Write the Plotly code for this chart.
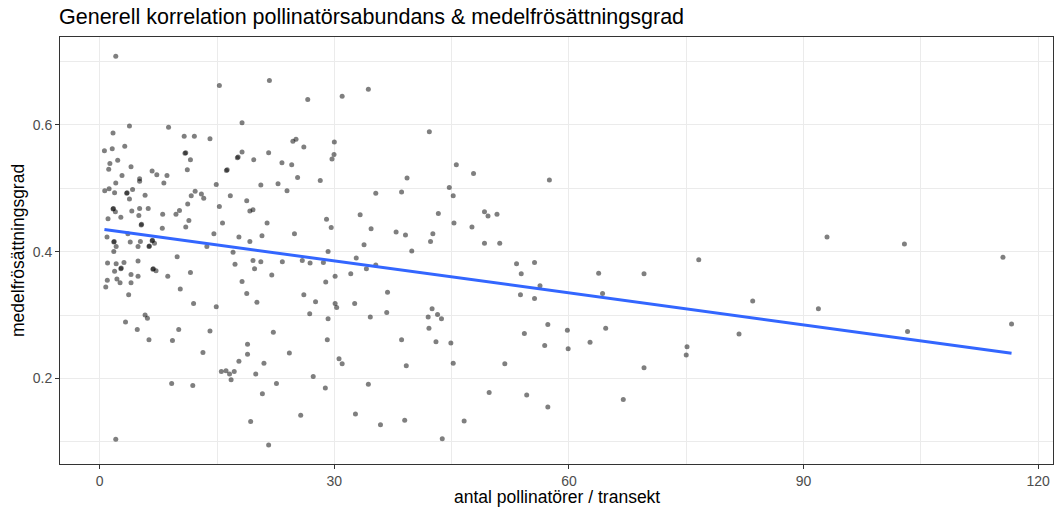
import numpy as np
import plotly.graph_objects as go

# antal pollinatörer / transekt (x) and medelfrösättningsgrad (y)
pollinators = [
    2.05, 15.3, 3.8, 1.7, 8.8, 10.8, 12.1, 14.1, 0.6, 1.6, 3.2, 1.3, 1.15, 2.3, 10.9, 11.0,
    11.6, 17.6, 17.7, 4.0, 11.2, 16.2, 16.3, 6.7, 7.3, 8.6, 2.85, 5.1, 5.1, 8.2, 2.05, 14.9,
    0.64, 1.2, 1.9, 3.45, 3.5, 4.2, 3.8, 5.8, 12.2, 11.7, 13.0, 13.3, 16.7, 15.3, 11.25, 1.7,
    1.75, 2.0, 4.1, 5.1, 6.2, 1.06, 2.7, 5.0, 8.05, 9.75, 10.2, 5.3, 5.35, 11.4, 11.0, 8.0,
    15.7, 14.6, 17.8, 0.93, 3.6, 1.8, 1.85, 2.1, 3.9, 5.2, 4.9, 6.3, 6.35, 6.7, 6.75, 7.0, 13.7,
    17.05, 1.8, 9.9, 17.3, 1.0, 2.1, 3.1, 4.9, 2.7, 2.75, 1.9, 6.8, 6.85, 7.2, 4.0, 4.9, 8.7,
    11.6, 2.2, 0.97, 2.6, 4.0, 0.77, 10.3, 3.7, 12.0, 14.9, 3.3, 5.8, 6.1, 4.8, 10.1, 14.1,
    6.3, 9.3, 13.2, 17.8, 15.55, 16.15, 16.6, 17.2, 16.8, 9.2, 11.9, 2.05,
    21.7, 26.6, 31.0, 34.35, 18.2, 18.2, 19.7, 21.6, 23.3, 24.55, 24.7, 25.1, 26.1, 30.0,
    29.96, 29.7, 25.3, 28.2, 22.8, 20.6, 23.95, 39.3, 35.3, 38.6, 18.8, 19.2, 19.6, 21.4,
    33.3, 29.0, 29.6, 34.7, 37.9, 39.1, 24.9, 20.75, 19.2, 33.8,
    29.2, 19.6, 19.8, 20.6, 23.35, 25.9, 26.9, 28.6, 32.8, 34.1, 35.3, 32.1, 30.1, 28.9,
    22.0, 18.2, 18.8, 20.1, 26.1, 27.6, 26.85, 30.1, 30.3, 32.6, 36.8, 36.7, 34.6, 29.2,
    22.2, 29.1, 38.6, 18.9, 18.9, 24.25, 21.0, 19.95, 30.6, 31.0, 39.2, 22.6, 27.3, 28.85,
    34.35, 20.8, 19.3, 25.7, 32.7, 35.9, 39.0, 21.6,
    42.15, 45.6, 47.8, 57.5, 44.7, 45.2, 43.3, 49.2, 49.65, 50.8, 45.3, 47.6, 42.6, 42.3,
    39.9, 49.2, 51.15, 53.3, 55.6, 53.9, 56.3, 53.8, 55.6, 63.8, 42.5, 42.0, 43.2, 43.7,
    42.1, 43.0, 44.9, 57.3, 54.3, 56.9, 59.8, 59.9, 62.7, 45.2, 51.8, 49.8, 54.6, 57.3,
    46.6, 43.8,
    64.3, 64.7, 66.95, 69.6, 69.6, 76.6, 75.1, 75.0, 83.5, 81.75, 93.0, 91.9, 102.9, 103.3,
    115.5, 116.6,
]
seed_set = [
    0.708, 0.662, 0.598, 0.587, 0.596, 0.582, 0.582, 0.578, 0.559, 0.562, 0.566, 0.539, 0.530, 0.544, 0.555, 0.556,
    0.545, 0.548, 0.549, 0.534, 0.529, 0.528, 0.529, 0.527, 0.521, 0.520, 0.520, 0.515, 0.511, 0.508, 0.508, 0.506,
    0.496, 0.499, 0.493, 0.492, 0.493, 0.498, 0.483, 0.489, 0.495, 0.488, 0.491, 0.484, 0.488, 0.471, 0.475, 0.467,
    0.468, 0.463, 0.464, 0.468, 0.468, 0.452, 0.454, 0.457, 0.459, 0.459, 0.465, 0.442, 0.443, 0.449, 0.439, 0.437,
    0.445, 0.428, 0.423, 0.423, 0.428, 0.415, 0.416, 0.408, 0.415, 0.416, 0.408, 0.408, 0.409, 0.417, 0.418, 0.413, 0.408,
    0.399, 0.400, 0.392, 0.380, 0.382, 0.381, 0.383, 0.385, 0.373, 0.374, 0.369, 0.372, 0.373, 0.370, 0.364, 0.361, 0.361,
    0.367, 0.357, 0.355, 0.351, 0.351, 0.344, 0.341, 0.332, 0.318, 0.313, 0.289, 0.300, 0.295, 0.277, 0.277, 0.275,
    0.261, 0.260, 0.241, 0.227, 0.211, 0.212, 0.207, 0.211, 0.198, 0.192, 0.189, 0.104,
    0.670, 0.640, 0.645, 0.656, 0.603, 0.557, 0.545, 0.556, 0.540, 0.537, 0.574, 0.577, 0.565, 0.573,
    0.553, 0.546, 0.517, 0.512, 0.507, 0.505, 0.496, 0.516, 0.492, 0.494, 0.480, 0.464, 0.466, 0.445,
    0.458, 0.451, 0.438, 0.436, 0.431, 0.426, 0.428, 0.425, 0.416, 0.411,
    0.400, 0.386, 0.373, 0.384, 0.384, 0.386, 0.382, 0.383, 0.390, 0.373, 0.379, 0.365, 0.361, 0.352,
    0.363, 0.353, 0.334, 0.320, 0.332, 0.321, 0.302, 0.318, 0.312, 0.318, 0.336, 0.304, 0.297, 0.294,
    0.273, 0.261, 0.261, 0.254, 0.238, 0.240, 0.224, 0.207, 0.231, 0.223, 0.220, 0.192, 0.203, 0.185,
    0.191, 0.176, 0.132, 0.142, 0.144, 0.127, 0.134, 0.095,
    0.589, 0.537, 0.523, 0.513, 0.501, 0.488, 0.460, 0.463, 0.456, 0.459, 0.445, 0.439, 0.428, 0.416,
    0.401, 0.413, 0.413, 0.381, 0.383, 0.365, 0.346, 0.332, 0.326, 0.366, 0.310, 0.297, 0.301, 0.294,
    0.279, 0.258, 0.256, 0.285, 0.271, 0.252, 0.276, 0.247, 0.257, 0.224, 0.223, 0.178, 0.174, 0.155,
    0.133, 0.105,
    0.334, 0.279, 0.167, 0.365, 0.217, 0.387, 0.250, 0.237, 0.322, 0.270, 0.423, 0.310, 0.412, 0.274,
    0.391, 0.286,
]

title_text = "Generell korrelation pollinatörsabundans & medelfrösättningsgrad"
x_label = "antal pollinatörer / transekt"
y_label = "medelfrösättningsgrad"
x_ticks = [0, 30, 60, 90, 120]
y_ticks = [0.2, 0.4, 0.6]

x = np.array(pollinators)
y = np.array(seed_set)
slope, intercept = np.polyfit(x, y, 1)
fit_x = np.array([x.min(), x.max()])
fit_y = intercept + slope * fit_x

FONT = "Liberation Sans, Arial, Helvetica, sans-serif"
W, H = 1056, 510
L, R, T, B = 60, 3, 37, 46

fig = go.Figure()
fig.add_trace(go.Scatter(
    x=x, y=y, mode="markers",
    marker=dict(size=5, color="rgba(0,0,0,0.5)", line=dict(width=0)),
    hoverinfo="x+y", showlegend=False,
))
fig.add_trace(go.Scatter(
    x=fit_x, y=fit_y, mode="lines",
    line=dict(color="#3366FF", width=3), showlegend=False,
))

axis_common = dict(
    showline=True, linecolor="#333333", linewidth=1, mirror=True,
    ticks="outside", ticklen=4, tickwidth=1, tickcolor="#333333",
    showgrid=True, gridcolor="#EBEBEB", gridwidth=1.4,
    zeroline=False,
    tickfont=dict(family=FONT, size=14, color="#4D4D4D"),
)

fig.update_layout(
    width=W, height=H,
    margin=dict(l=L, r=R, t=T, b=B),
    paper_bgcolor="white", plot_bgcolor="white",
    font=dict(family=FONT, color="black"),
    title=dict(
        text=title_text, x=(L - 1) / W, xanchor="left", xref="container",
        y=1 - 16 / H, yanchor="middle", yref="container",
        font=dict(family=FONT, size=21.5, color="black"),
    ),
    xaxis=dict(
        range=[-5.08, 121.9], tickvals=x_ticks, ticktext=[str(v) for v in x_ticks],
        minor=dict(showgrid=True, gridcolor="#EBEBEB", gridwidth=0.7, tickvals=[15, 45, 75, 105]),
        **axis_common,
    ),
    yaxis=dict(
        range=[0.0651, 0.7384], tickvals=y_ticks, ticktext=[f"{v:.1f}" for v in y_ticks],
        minor=dict(showgrid=True, gridcolor="#EBEBEB", gridwidth=0.7, tickvals=[0.1, 0.3, 0.5, 0.7]),
        **axis_common,
    ),
    annotations=[
        dict(text=x_label, xref="paper", yref="paper", x=0.5, y=-(497 - (H - B)) / (H - T - B),
             xanchor="center", yanchor="middle", showarrow=False,
             font=dict(family=FONT, size=17.5, color="black")),
        dict(text=y_label, xref="paper", yref="paper", x=-(L - 17.5) / (W - L - R), y=0.5,
             xanchor="center", yanchor="middle", textangle=-90, showarrow=False,
             font=dict(family=FONT, size=17.5, color="black")),
    ],
)

fig.write_html("out.html")
